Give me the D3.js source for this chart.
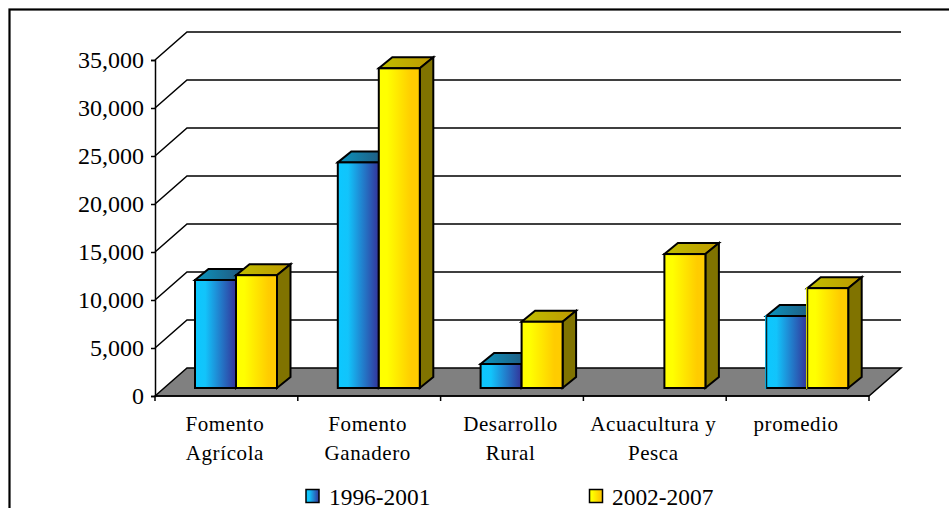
<!DOCTYPE html>
<html><head><meta charset="utf-8">
<script src="https://cdn.jsdelivr.net/npm/d3@7/dist/d3.min.js"></script>
<style>html,body{margin:0;padding:0;background:#fff}svg{display:block}text{font-family:"Liberation Serif","Times New Roman",serif;fill:#000}</style>
</head><body><svg id="c" width="949" height="508"></svg>
<script>
const categories=[["Fomento","Agrícola"],["Fomento","Ganadero"],["Desarrollo","Rural"],["Acuacultura y","Pesca"],["promedio"]];
const seriesNames=["1996-2001","2002-2007"];
const values1996=[11250,23500,2500,null,7500];
const values2002=[11750,33300,6900,13950,10400];
const yTicks=[0,5000,10000,15000,20000,25000,30000,35000];

const svg=d3.select("#c");
const defs=svg.append("defs");
function grad(id,stops){const g=defs.append("linearGradient").attr("id",id);
  stops.forEach(s=>g.append("stop").attr("offset",s[0]).attr("stop-color",s[1]));}
grad("gb",[[0,"#0cc8ff"],[.25,"#12c4fb"],[1,"#333399"]]);
grad("gy",[[0,"#ffff00"],[.2,"#ffff00"],[.8,"#ffcc00"],[1,"#ffcc00"]]);
grad("gbt",[[0,"#0a96bf"],[1,"#264d73"]]);
grad("gyt",[[0,"#bfbf00"],[1,"#bf9900"]]);

const x0=155,x1=869,yBase=396,yTop=60,dx=32,dy=-28;
const y=d3.scaleLinear().domain([0,35000]).range([yBase,yTop]);
const x=d3.scaleBand().domain(d3.range(categories.length)).range([x0,x1]);
const fmt=d3.format(",");

svg.append("rect").attr("x",9.5).attr("y",9.5).attr("width",960).attr("height",520).attr("fill","#fff").attr("stroke","#000").attr("stroke-width",2.2);

// floor
svg.append("path").attr("d",d3.line()([[x0,yBase],[x0+dx,yBase+dy],[x1+dx,yBase+dy],[x1,yBase]])+"Z")
  .attr("fill","#808080").attr("stroke","#000").attr("stroke-width",1.5);

// gridlines on side and back walls
yTicks.forEach(t=>{
  if(t===0) return;
  svg.append("path").attr("d",d3.line()([[x0,y(t)],[x0+dx,y(t)+dy],[x1+dx,y(t)+dy]]))
    .attr("fill","none").attr("stroke","#000").attr("stroke-width",1.5);
});

// axes
const axisY=svg.append("g").attr("transform",`translate(${x0},0)`)
  .call(d3.axisLeft(y).tickValues(yTicks).tickFormat(fmt).tickSize(4).tickPadding(7));
axisY.select(".domain").attr("stroke-width",1.5);
axisY.selectAll("line").attr("stroke-width",1.5);
axisY.selectAll("text").attr("font-size",24).attr("font-family",'"Liberation Serif"').attr("dy","0.32em");

const tickPos=d3.range(categories.length+1).map(i=>x0+i*x.step());
const axisX=svg.append("g").attr("transform",`translate(0,${yBase})`);
axisX.append("path").attr("d",`M${x0},0H${x1}`).attr("stroke","#000").attr("stroke-width",1.5);
axisX.selectAll("line").data(tickPos).join("line").attr("x1",d=>d).attr("x2",d=>d).attr("y1",0).attr("y2",5).attr("stroke","#000").attr("stroke-width",1.5);

// bars
const bw=41,barLeft=40,ddx=13.5,ddy=-11,barFloor=8;
function bar(v,i,s){
  if(v==null) return;
  const fx=x(i)+barLeft+s*bw, fw=bw, base=y(0)-barFloor, top=y(v)-barFloor;
  const g=svg.append("g").attr("stroke","#000").attr("stroke-width",2).attr("stroke-linejoin","miter");
  g.append("path").attr("d",d3.line()([[fx,top],[fx+ddx,top+ddy],[fx+fw+ddx,top+ddy],[fx+fw,top]])+"Z")
    .attr("fill",`url(#${s?"gyt":"gbt"})`);
  g.append("path").attr("d",d3.line()([[fx+fw,top],[fx+fw+ddx,top+ddy],[fx+fw+ddx,base+ddy],[fx+fw,base]])+"Z")
    .attr("fill",s?"#807300":"#262673");
  g.append("rect").attr("x",fx).attr("y",top).attr("width",fw).attr("height",base-top).attr("fill",`url(#${s?"gy":"gb"})`);
  // last group: the left edge keeps the bar's own light colour
  if(i===categories.length-1){
    g.append("line").attr("x1",fx-0.5).attr("x2",fx-0.5).attr("y1",top-1).attr("y2",base+1)
      .attr("stroke",s?"#ffff00":"#0cc8ff").attr("stroke-width",1);
  }
}
categories.forEach((c,i)=>{bar(values1996[i],i,0);bar(values2002[i],i,1);});

// category labels
categories.forEach((c,i)=>{
  const cx=x(i)+x.bandwidth()/2-1.5;
  c.forEach((t,j)=>svg.append("text").attr("x",cx).attr("y",431+j*29).attr("text-anchor","middle")
    .attr("font-size",21).attr("letter-spacing",0.6).text(t));
});

// legend
const lx=[306,589.5],lt=[329,612];
seriesNames.forEach((n,i)=>{
  svg.append("rect").attr("x",lx[i]).attr("y",489.5).attr("width",13).attr("height",13)
    .attr("fill",`url(#${i?"gy":"gb"})`).attr("stroke","#000").attr("stroke-width",1.5);
  svg.append("text").attr("x",lt[i]).attr("y",505).attr("font-size",23.4).text(n);
});
</script></body></html>
